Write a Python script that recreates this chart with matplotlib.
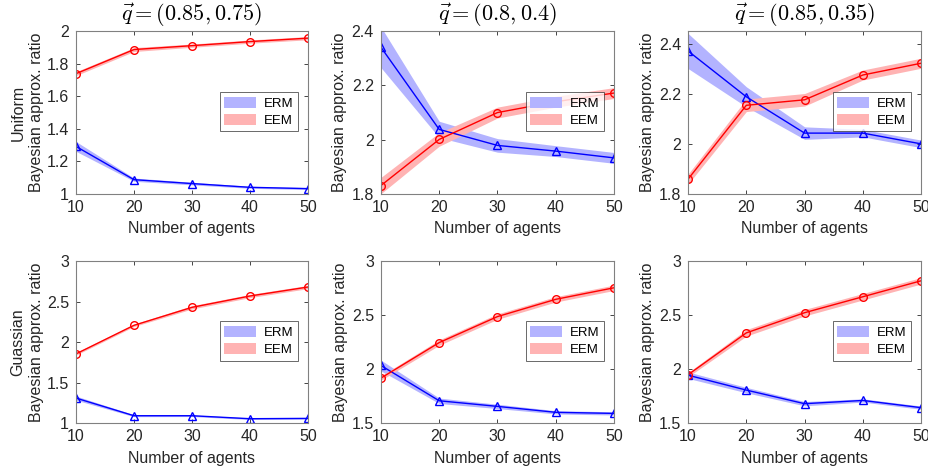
import matplotlib
matplotlib.use("Agg")
import matplotlib.pyplot as plt
import numpy as np

plt.rcParams['font.family'] = ['Liberation Sans', 'DejaVu Sans']
plt.rcParams['mathtext.fontset'] = 'cm'

agents = [10, 20, 30, 40, 50]

titles = [r"$\vec{q} = (0.85, 0.75)$", r"$\vec{q} = (0.8, 0.4)$", r"$\vec{q} = (0.85, 0.35)$"]
row_names = ["Uniform", "Guassian"]

# top row (Uniform)
erm_top = [
    [1.292, 1.088, 1.064, 1.041, 1.033],
    [2.341, 2.038, 1.979, 1.958, 1.933],
    [2.371, 2.188, 2.043, 2.043, 2.000],
]
erm_top_err = [
    [0.030, 0.010, 0.008, 0.006, 0.006],
    [0.075, 0.030, 0.025, 0.020, 0.020],
    [0.070, 0.040, 0.025, 0.015, 0.015],
]
eem_top = [
    [1.739, 1.887, 1.911, 1.936, 1.957],
    [1.831, 2.001, 2.100, 2.140, 2.172],
    [1.859, 2.154, 2.176, 2.275, 2.322],
]
eem_top_err = [
    [0.012, 0.012, 0.010, 0.010, 0.010],
    [0.030, 0.025, 0.020, 0.020, 0.020],
    [0.020, 0.025, 0.025, 0.020, 0.020],
]

# bottom row (Gaussian)
erm_bot = [
    [1.308, 1.090, 1.090, 1.053, 1.057],
    [2.033, 1.706, 1.654, 1.599, 1.589],
    [1.943, 1.805, 1.679, 1.709, 1.642],
]
erm_bot_err = [
    [0.025, 0.012, 0.010, 0.010, 0.010],
    [0.050, 0.025, 0.020, 0.015, 0.015],
    [0.030, 0.025, 0.020, 0.015, 0.015],
]
eem_bot = [
    [1.854, 2.207, 2.429, 2.569, 2.680],
    [1.916, 2.245, 2.486, 2.646, 2.753],
    [1.947, 2.335, 2.522, 2.670, 2.818],
]
eem_bot_err = [
    [0.015, 0.015, 0.020, 0.020, 0.020],
    [0.020, 0.025, 0.025, 0.025, 0.025],
    [0.020, 0.030, 0.030, 0.030, 0.030],
]

ylims = [[(1, 2), (1.8, 2.4), (1.8, 2.45)], [(1, 3), (1.5, 3), (1.5, 3)]]
yticks = [[[1, 1.2, 1.4, 1.6, 1.8, 2], [1.8, 2, 2.2, 2.4], [1.8, 2, 2.2, 2.4]],
          [[1, 1.5, 2, 2.5, 3], [1.5, 2, 2.5, 3], [1.5, 2, 2.5, 3]]]

fig = plt.figure(figsize=(9.29, 4.72), dpi=100)

lefts = [0.0818, 0.410, 0.7406]
widths = [0.2497, 0.251, 0.251]
bottoms = [0.589, 0.1038]
heights = [0.345, 0.343]

txt = '#262626'
rows = [(erm_top, erm_top_err, eem_top, eem_top_err), (erm_bot, erm_bot_err, eem_bot, eem_bot_err)]

for r in range(2):
    erm, erm_err, eem, eem_err = rows[r]
    for c in range(3):
        ax = fig.add_axes([lefts[c], bottoms[r], widths[c], heights[r]])
        e = np.array(erm[c]); ee = np.array(erm_err[c])
        m = np.array(eem[c]); me = np.array(eem_err[c])
        ax.fill_between(agents, e - ee, e + ee, color=(0.7, 0.7, 1.0), lw=0, label='ERM')
        ax.fill_between(agents, m - me, m + me, color=(1.0, 0.7, 0.7), lw=0, label='EEM')
        ax.plot(agents, e, color='blue', marker='^', mfc='none', ms=5.5, lw=1)
        ax.plot(agents, m, color='red', marker='o', mfc='none', ms=5.5, lw=1)
        ax.set_xlim(10, 50)
        ax.set_ylim(*ylims[r][c])
        ax.set_xticks(agents)
        ax.set_yticks(yticks[r][c])
        ax.set_yticklabels([f"{t:g}" for t in yticks[r][c]])
        ax.tick_params(direction='in', top=True, right=True, labelsize=11.5,
                       colors=txt, length=3, width=0.6)
        ax.tick_params(axis='x', pad=4)
        ax.tick_params(axis='y', pad=5)
        for s in ax.spines.values():
            s.set_color('0.5')
            s.set_linewidth(0.8)
        ax.set_xlabel("Number of agents", fontsize=11.5, color=txt, labelpad=5)
        if c == 0:
            ax.set_ylabel(row_names[r] + "\nBayesian approx. ratio", fontsize=11.5,
                          color=txt, labelpad=2, linespacing=1.3)
        else:
            ax.set_ylabel("Bayesian approx. ratio", fontsize=11.5, color=txt, labelpad=3)
        if r == 0:
            ax.set_title(titles[c], fontsize=16, color='black', pad=7)
        leg = ax.legend(loc='center right', bbox_to_anchor=(0.957, 0.506), borderaxespad=0,
                        fontsize=9.5, frameon=True, fancybox=False, handlelength=2.4,
                        handleheight=0.9, borderpad=0.35, labelspacing=0.3, handletextpad=0.6)
        leg.get_frame().set_edgecolor(txt)
        leg.get_frame().set_linewidth(0.6)

fig.savefig("out.png", dpi=100)
